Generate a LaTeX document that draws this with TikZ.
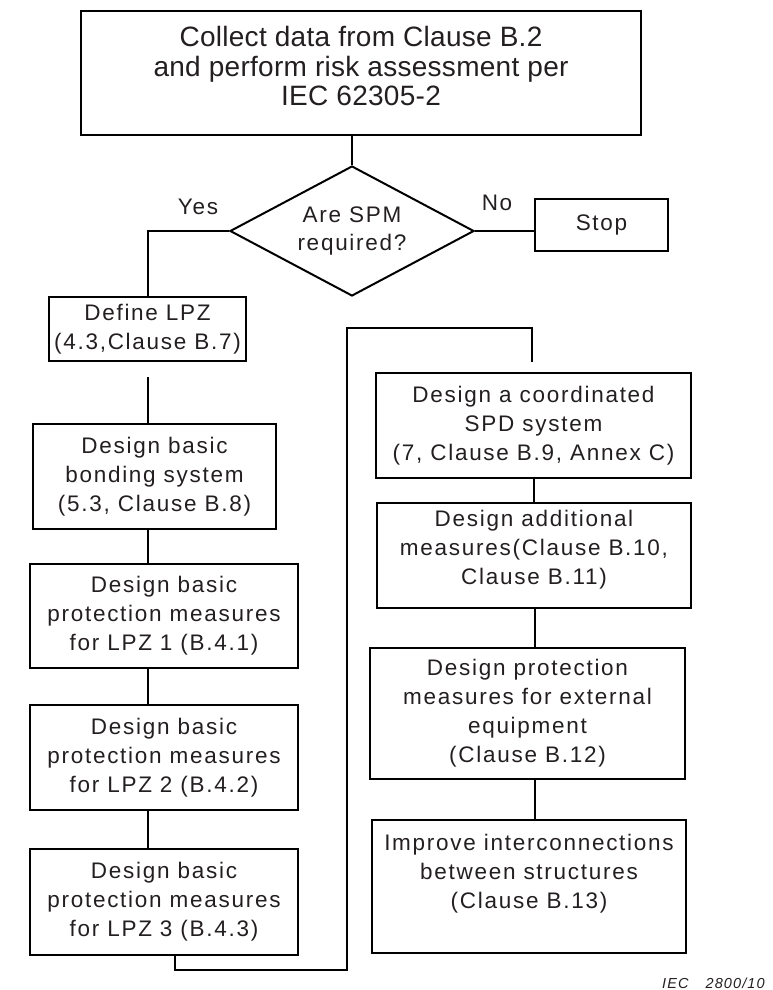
\documentclass[tikz,border=0pt]{standalone}
\usepackage{fontspec}
\setmainfont{Liberation Sans}
\newfontfamily\bodyfont{Liberation Sans}[LetterSpace=7.7]
\newfontfamily\topfont{Liberation Sans}[LetterSpace=1]
\usetikzlibrary{shapes.geometric}
\definecolor{txtc}{RGB}{35,31,32}
\begin{document}
\begin{tikzpicture}[x=1pt,y=-1pt,
  box/.style={draw, line width=2pt, inner sep=0pt, align=center, text=txtc,
              font=\bodyfont\fontsize{22.5}{29}\selectfont},
  lbl/.style={inner sep=0pt, text=txtc, font=\bodyfont\fontsize{22.5}{29}\selectfont},
  conn/.style={draw, line width=2pt}]
\useasboundingbox (0,0) rectangle (772,990);

\node[box, minimum width=560pt, minimum height=124pt, text depth=14pt,
      font=\topfont\fontsize{28}{29.5}\selectfont] (top) at (361,73)
  {Collect data from Clause B.2\\and perform risk assessment per\\IEC 62305-2};

\node[diamond, draw, line width=2pt, inner sep=0pt, aspect=1.88,
      minimum width=244pt, minimum height=130pt, align=center, text=txtc,
      font=\bodyfont\fontsize{22.5}{28}\selectfont] (dia) at (352,231) {Are SPM\\required?};

\node[box, minimum width=133pt, minimum height=52pt] (stop) at (601.5,225) {Stop};
\node[lbl] (yes) at (198,207) {Yes};
\node[lbl] (no) at (497,203) {No};

\node[box, minimum width=197pt, minimum height=64pt] (lpz) at (147.5,329)
  {Define LPZ\\(4.3,Clause B.7)};
\node[box, minimum width=243pt, minimum height=105pt] (bond) at (154.5,476.5)
  {Design basic\\bonding system\\(5.3, Clause B.8)};
\node[box, minimum width=268pt, minimum height=104pt] (l1) at (164,616)
  {Design basic\\protection measures\\for LPZ 1 (B.4.1)};
\node[box, minimum width=268pt, minimum height=105pt] (l2) at (164,757.5)
  {Design basic\\protection measures\\for LPZ 2 (B.4.2)};
\node[box, minimum width=268pt, minimum height=106pt] (l3) at (164,902)
  {Design basic\\protection measures\\for LPZ 3 (B.4.3)};

\node[box, minimum width=315pt, minimum height=105pt] (spd) at (533.5,425.5)
  {Design a coordinated\\SPD system\\(7, Clause B.9, Annex C)};
\node[box, minimum width=314pt, minimum height=105pt, text depth=16pt] (add) at (534,555.5)
  {Design additional\\measures(Clause B.10,\\Clause B.11)};
\node[box, minimum width=315pt, minimum height=131pt] (ext) at (527.5,713.5)
  {Design protection\\measures for external\\equipment\\(Clause B.12)};
\node[box, minimum width=314pt, minimum height=133pt, text depth=30pt] (imp) at (529,886.5)
  {Improve interconnections\\between structures\\(Clause B.13)};

\node[anchor=west, inner sep=0pt, text=txtc,
      font=\bodyfont\fontsize{14.5}{18}\selectfont\itshape]
  (iec) at (662,983) {IEC\hspace{17pt}2800/10};

% connectors
\draw[conn] (dia.north) -- (dia.north |- top.south);
\draw[conn] (dia.west) -| (lpz.north);
\draw[conn] (dia.east) -- (dia.east -| stop.west);
\coordinate (lpzout) at ([yshift=-15pt]lpz.south);
\draw[conn] (lpzout) -- (lpzout |- bond.north);
\draw[conn] (lpz.south |- bond.south) -- (lpz.south |- l1.north);
\draw[conn] (lpz.south |- l1.south) -- (lpz.south |- l2.north);
\draw[conn] (lpz.south |- l2.south) -- (lpz.south |- l3.north);
\coordinate (b1) at (175,970);
\coordinate (b2) at (347,328);
\coordinate (spdin) at ([xshift=-2pt,yshift=10pt]spd.north);
\draw[conn] (b1 |- l3.south) -- (b1) -| (b2) -| (spdin);
\coordinate (rc) at (535,0);
\draw[conn] (spd.south) -- (spd.south |- add.north);
\draw[conn] (rc |- add.south) -- (rc |- ext.north);
\draw[conn] (rc |- ext.south) -- (rc |- imp.north);
\end{tikzpicture}
\end{document}
